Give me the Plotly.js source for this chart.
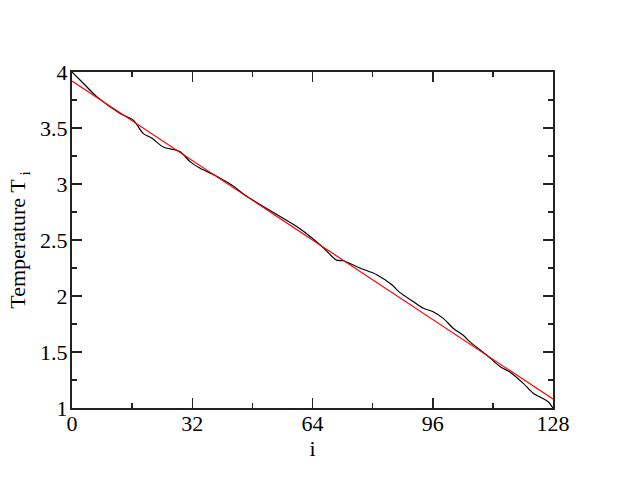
<!DOCTYPE html>
<html>
<head>
<meta charset="utf-8">
<script src="https://cdn.plot.ly/plotly-3.0.1.min.js"></script>
<style>
  html, body { margin: 0; padding: 0; background: #fff; }
  #plot { width: 623px; height: 481px; }
</style>
</head>
<body>
<div id="plot"></div>
<script>
// temperature profile along the chain
const siteIndex = [0, 3, 6.6, 12.8, 16.3, 19, 21.2, 24.3, 28.7, 31.4, 34.1, 38.5, 42.5,
    46.5, 50.9, 55.4, 59.8, 63.8, 66.9, 70.4, 72.2, 76.6, 81.1, 85.1, 87.3, 90.8,
    93.5, 96.1, 98.8, 101.5, 104.1, 105.9, 110.8, 113.9, 116.6, 120.1, 122.8, 125,
    126.7, 128];
const temperature = [4.0, 3.90, 3.78, 3.63, 3.57, 3.45, 3.41, 3.33, 3.29, 3.20, 3.14,
    3.07, 2.99, 2.89, 2.80, 2.71, 2.62, 2.52, 2.43, 2.32, 2.315, 2.25, 2.19, 2.10,
    2.03, 1.95, 1.89, 1.86, 1.80, 1.71, 1.65, 1.59, 1.46, 1.37, 1.32, 1.22, 1.13,
    1.09, 1.056, 1.0];

// linear fit
const fitX = [0, 128];
const fitY = [3.92, 1.08];

const font = {family: '"Liberation Serif", "DejaVu Serif", serif', size: 22, color: '#000'};

const data = [
    {x: siteIndex, y: temperature, mode: 'lines', name: 'T',
     line: {color: '#000', width: 1.2, shape: 'spline', smoothing: 0.8}},
    {x: fitX, y: fitY, mode: 'lines', name: 'fit',
     line: {color: '#ff0000', width: 1.2}}
];

const axisCommon = {
    showgrid: false,
    zeroline: false,
    showline: true,
    linecolor: '#222',
    linewidth: 2,
    mirror: 'ticks',
    ticks: 'inside',
    ticklen: 10,
    tickwidth: 1.5,
    tickcolor: '#222',
    tickfont: font
};

const layout = {
    width: 623,
    height: 481,
    margin: {l: 72, r: 70, t: 72, b: 73},
    showlegend: false,
    paper_bgcolor: '#fff',
    plot_bgcolor: '#fff',
    font: font,
    xaxis: Object.assign({}, axisCommon, {
        range: [0, 128],
        tickvals: [0, 32, 64, 96, 128],
        ticklabelstandoff: -5,
        minor: {dtick: 16, tick0: 0, ticks: 'inside', ticklen: 5, tickwidth: 1.5, tickcolor: '#222'},
        title: {text: 'i', font: font, standoff: 0}
    }),
    yaxis: Object.assign({}, axisCommon, {
        range: [1, 4],
        tickvals: [1, 1.5, 2, 2.5, 3, 3.5, 4],
        ticklabelstandoff: -2,
        minor: {dtick: 0.25, tick0: 1, ticks: 'inside', ticklen: 5, tickwidth: 1.5, tickcolor: '#222'},
        title: {text: 'Temperature T<sub> i</sub>', font: font, standoff: 8}
    })
};

Plotly.newPlot('plot', data, layout, {displayModeBar: false, staticPlot: true});
</script>
</body>
</html>
